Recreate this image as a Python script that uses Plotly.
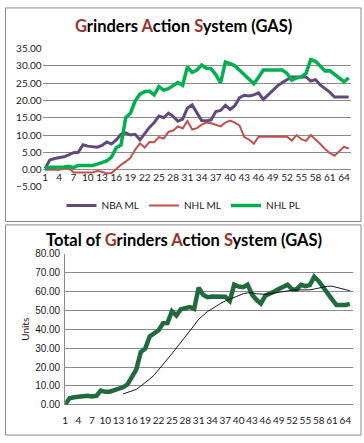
import plotly.graph_objects as go

# ---------------- data ----------------
days = list(range(1, 66))
tick_labels = [1, 4, 7, 10, 13, 16, 19, 22, 25, 28, 31, 34, 37, 40, 43, 46, 49, 52, 55, 58, 61, 64]

nba_ml = [0.3, 2.8, 3.2, 3.4, 3.7, 4.3, 4.9, 5.0, 7.2, 6.8,
          6.6, 6.5, 7.0, 8.0, 7.4, 8.6, 10.2, 10.6, 10.0, 10.2,
          8.6, 10.5, 12.2, 13.6, 15.5, 15.0, 16.3, 15.4, 14.0, 14.6,
          17.8, 18.7, 16.4, 14.2, 14.1, 14.4, 16.8, 17.1, 18.6, 17.4,
          18.5, 20.8, 21.5, 21.3, 21.6, 22.2, 20.3, 21.6, 23.0, 24.2,
          25.2, 26.0, 26.8, 26.8, 26.8, 26.8, 25.6, 26.0, 24.5, 23.5,
          22.4, 21.0, 21.0, 21.0, 21.0]

nhl_ml = [0.0, 0.0, 0.0, 0.0, 0.3, 0.5, -0.8, -0.8, -0.8, -0.8,
          -0.8, -0.4, -0.6, -1.1, -1.0, 0.2, 1.4, 2.3, 3.4, 5.8,
          7.6, 6.4, 8.0, 7.9, 9.4, 9.0, 10.9, 11.3, 12.5, 11.9,
          14.1, 11.6, 12.0, 13.0, 13.6, 13.4, 13.0, 12.5, 13.6, 14.2,
          13.6, 12.7, 9.4, 8.7, 7.5, 9.5, 9.5, 9.5, 9.5, 9.5,
          9.5, 9.5, 8.4, 10.0, 8.8, 8.3, 10.0, 8.8, 7.4, 6.0,
          4.8, 4.0, 5.2, 6.6, 6.1]

nhl_pl = [0.4, 0.7, 0.7, 0.7, 0.8, 1.0, 0.6, 1.2, 1.2, 1.2,
          1.2, 1.6, 2.0, 2.5, 3.6, 6.3, 7.1, 15.0, 16.3, 19.9,
          21.8, 22.5, 22.7, 21.6, 24.0, 23.0, 23.4, 24.3, 25.2, 24.4,
          29.7, 28.1, 28.8, 30.2, 29.3, 29.2, 27.4, 25.1, 31.1, 30.6,
          30.0, 28.7, 27.4, 25.8, 24.8, 26.7, 28.8, 28.8, 28.8, 28.8,
          28.8, 27.8, 25.9, 26.5, 26.8, 27.8, 31.8, 31.3, 30.0, 28.5,
          28.6, 27.6, 26.6, 25.4, 26.5]

total = [0.3, 3.5, 4.0, 4.2, 4.9, 4.8, 4.4, 4.8, 7.6, 6.9,
         7.0, 7.9, 8.2, 9.3, 10.8, 14.8, 18.8, 28.0, 29.8, 36.2,
         38.2, 39.5, 43.2, 43.3, 49.6, 47.3, 50.6, 51.2, 51.8, 50.8,
         62.0, 58.3, 57.0, 57.3, 57.4, 57.4, 57.2, 55.0, 63.6, 62.6,
         62.3, 63.6, 58.4, 55.6, 53.6, 57.8, 58.6, 60.0, 61.3, 62.5,
         63.6, 61.2, 61.0, 63.5, 62.8, 63.4, 67.8, 65.5, 62.0, 58.5,
         55.8, 52.8, 52.8, 52.8, 53.5]

trend_days = list(range(14, 66))
trend = [5.8, 6.6, 7.2, 8.2, 10.0, 11.7, 13.7, 15.8, 18.5, 21.4,
         24.1, 27.1, 30.1, 33.0, 36.3, 39.2, 42.1, 45.3, 47.6, 49.4,
         50.8, 52.5, 53.8, 55.0, 56.0, 57.2, 58.0, 58.8, 59.3, 59.3,
         58.8, 58.5, 58.5, 58.8, 59.2, 59.7, 60.1, 60.5, 60.7, 60.8,
         60.8, 60.8, 60.9, 61.3, 61.9, 62.5, 62.8, 62.8, 62.4, 61.6,
         61.0, 60.4]

# ---------------- styles ----------------
W, H = 364, 443
GRID = "#8a8a8a"
BORDER = "#8a8a8a"
FONT = "Lato"
ACC = "#943634"


def px_x(x):
    return x / W


def px_y(y):
    return 1 - y / H


fig = go.Figure()

fig.add_trace(go.Scatter(x=days, y=nba_ml, name="NBA ML", mode="lines",
                         line=dict(color="#604A7B", width=3),
                         xaxis="x", yaxis="y"))
fig.add_trace(go.Scatter(x=days, y=nhl_ml, name="NHL ML", mode="lines",
                         line=dict(color="#C0504D", width=2),
                         xaxis="x", yaxis="y"))
fig.add_trace(go.Scatter(x=days, y=nhl_pl, name="NHL PL", mode="lines",
                         line=dict(color="#00B050", width=3.5),
                         xaxis="x", yaxis="y"))

fig.add_trace(go.Scatter(x=days, y=total, name="Total", mode="lines",
                         line=dict(color="#216A3E", width=4.5),
                         xaxis="x2", yaxis="y2", showlegend=False))
fig.add_trace(go.Scatter(x=trend_days, y=trend, name="Trend", mode="lines",
                         line=dict(color="#000000", width=0.9),
                         xaxis="x2", yaxis="y2", showlegend=False))

tickfont = dict(family=FONT, size=10, color="#1a1a1a")

fig.update_layout(
    width=W, height=H,
    margin=dict(l=0, r=0, t=0, b=0),
    paper_bgcolor="white", plot_bgcolor="white",
    showlegend=True,
    legend=dict(orientation="h", x=0.5, xanchor="center",
                y=px_y(205), yanchor="middle",
                font=dict(family=FONT, size=10, color="#1a1a1a"),
                itemwidth=30, bgcolor="rgba(0,0,0,0)"),
    xaxis=dict(domain=[px_x(40), px_x(351)], range=[0.5, 65.5],
               tickmode="array", tickvals=tick_labels,
               ticktext=[str(t) for t in tick_labels], tickangle=0,
               anchor="free", position=px_y(168.2),
               showgrid=False, showline=False, zeroline=False, ticks="",
               tickfont=tickfont, fixedrange=True),
    yaxis=dict(domain=[px_y(186), px_y(43.7)], range=[-5, 35], dtick=5,
               tickformat=".2f", showgrid=True, gridcolor=GRID, gridwidth=1,
               zeroline=True, zerolinecolor=GRID, zerolinewidth=1,
               showline=False, ticks="", anchor="x",
               tickfont=tickfont, fixedrange=True),
    xaxis2=dict(domain=[px_x(62.7), px_x(352.7)], range=[1, 65.66],
                tickmode="array", tickvals=tick_labels,
                ticktext=[str(t) for t in tick_labels], tickangle=0,
                anchor="y2", showgrid=False, showline=False, zeroline=False,
                ticks="outside", ticklen=6, tickcolor="rgba(0,0,0,0)",
                tickfont=tickfont, fixedrange=True),
    yaxis2=dict(domain=[px_y(410), px_y(254.6)], range=[0, 80], dtick=10,
                tickformat=".2f", showgrid=True, gridcolor=GRID, gridwidth=1,
                zeroline=True, zerolinecolor=GRID, zerolinewidth=1,
                showline=True, linecolor=GRID, linewidth=1,
                ticks="outside", ticklen=2, tickcolor="rgba(0,0,0,0)",
                anchor="x2",
                tickfont=dict(family="Liberation Sans", size=10, color="#1a1a1a"),
                fixedrange=True),
)


def colored(text_parts):
    out = ""
    for s, c in text_parts:
        if c:
            out += f"<span style='color:{c}'>{s}</span>"
        else:
            out += s
    return "<b>" + out + "</b>"


title1 = colored([("G", ACC), ("rinders ", None), ("A", ACC), ("ction ", None),
                  ("S", ACC), ("ystem (GAS)", None)])
title2 = colored([("Total of ", None), ("G", ACC), ("rinders ", None), ("A", ACC),
                  ("ction ", None), ("S", ACC), ("ystem (GAS)", None)])

fig.add_annotation(text=title1, xref="paper", yref="paper",
                   x=px_x(181.5), y=px_y(21), xanchor="center", yanchor="middle",
                   showarrow=False, font=dict(family=FONT, size=16.5, color="#000000"))
fig.add_annotation(text=title2, xref="paper", yref="paper",
                   x=px_x(182), y=px_y(240.5), xanchor="center", yanchor="middle",
                   showarrow=False, font=dict(family=FONT, size=16.5, color="#000000"))
fig.add_annotation(text="Units", xref="paper", yref="paper",
                   x=px_x(22), y=px_y(332), xanchor="center", yanchor="middle",
                   textangle=-90, showarrow=False,
                   font=dict(family=FONT, size=10, color="#1a1a1a"))

# chart borders
fig.add_shape(type="rect", xref="paper", yref="paper",
              x0=px_x(2.5), x1=px_x(361), y0=px_y(221.5), y1=px_y(2),
              line=dict(color=BORDER, width=1))
fig.add_shape(type="rect", xref="paper", yref="paper",
              x0=px_x(2.5), x1=px_x(361), y0=px_y(441), y1=px_y(225),
              line=dict(color=BORDER, width=1))

fig.write_html("out.html",
               config={"displayModeBar": False},
               post_script="document.body.style.margin='0';"
                           "document.body.style.padding='0';"
                           "document.body.style.overflow='hidden';")
